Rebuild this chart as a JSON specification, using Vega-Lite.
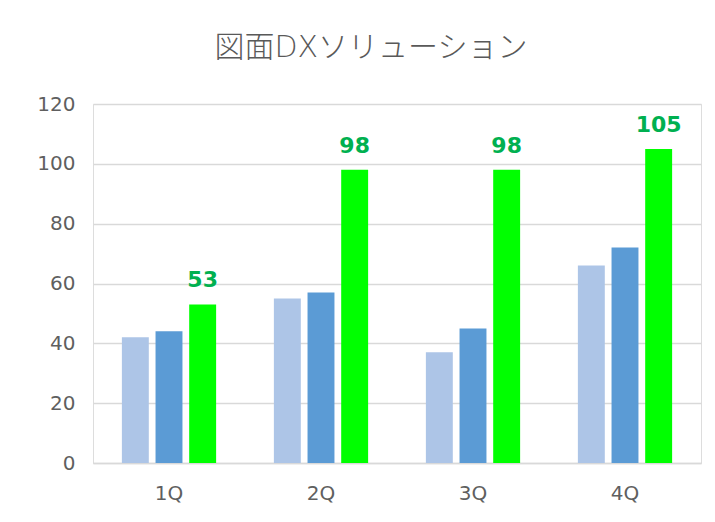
{
  "$schema": "https://vega.github.io/schema/vega-lite/v6.json",
  "autosize": "none",
  "width": 608,
  "height": 359,
  "padding": {"left": 93, "top": 104, "right": 14, "bottom": 59},
  "background": "white",
  "title": {
    "text": "図面DXソリューション",
    "font": "DejaVu Sans, Noto Sans CJK JP",
    "fontSize": 30,
    "fontWeight": 300,
    "color": "#595959",
    "anchor": "middle",
    "dx": -26,
    "offset": 31
  },
  "data": {
    "values": [
      {"q": "1Q", "s": "A", "v": 42},
      {"q": "1Q", "s": "B", "v": 44},
      {"q": "1Q", "s": "C", "v": 53},
      {"q": "2Q", "s": "A", "v": 55},
      {"q": "2Q", "s": "B", "v": 57},
      {"q": "2Q", "s": "C", "v": 98},
      {"q": "3Q", "s": "A", "v": 37},
      {"q": "3Q", "s": "B", "v": 45},
      {"q": "3Q", "s": "C", "v": 98},
      {"q": "4Q", "s": "A", "v": 66},
      {"q": "4Q", "s": "B", "v": 72},
      {"q": "4Q", "s": "C", "v": 105}
    ]
  },
  "encoding": {
    "x": {
      "field": "q", "type": "nominal",
      "scale": {"paddingInner": 0.38, "paddingOuter": 0.19},
      "axis": {
        "title": null, "labelAngle": 0, "ticks": false, "labelPadding": 20,
        "labelFont": "DejaVu Sans", "labelFontSize": 20, "labelColor": "#5f5f5f",
        "domainColor": "#d9d9d9", "domainWidth": 1.5, "grid": false
      }
    },
    "xOffset": {"field": "s", "type": "nominal", "scale": {"paddingInner": 0.2}},
    "y": {
      "field": "v", "type": "quantitative",
      "scale": {"domain": [0, 120]},
      "axis": {
        "title": null, "values": [0, 20, 40, 60, 80, 100, 120], "ticks": false, "domain": false,
        "labelPadding": 18, "labelFont": "DejaVu Sans", "labelFontSize": 20, "labelColor": "#5f5f5f",
        "gridColor": "#d9d9d9", "gridWidth": 1.5
      }
    }
  },
  "layer": [
    {
      "mark": {"type": "bar"},
      "encoding": {
        "color": {
          "field": "s", "type": "nominal", "legend": null,
          "scale": {"domain": ["A", "B", "C"], "range": ["#adc5e7", "#5b9bd5", "#00ff00"]}
        }
      }
    },
    {
      "transform": [{"filter": "datum.s === 'C'"}],
      "mark": {"type": "text", "baseline": "bottom", "dy": -12, "font": "DejaVu Sans", "fontSize": 22, "fontWeight": 600, "color": "#00b050"},
      "encoding": {"text": {"field": "v", "type": "quantitative"}}
    }
  ]
}
